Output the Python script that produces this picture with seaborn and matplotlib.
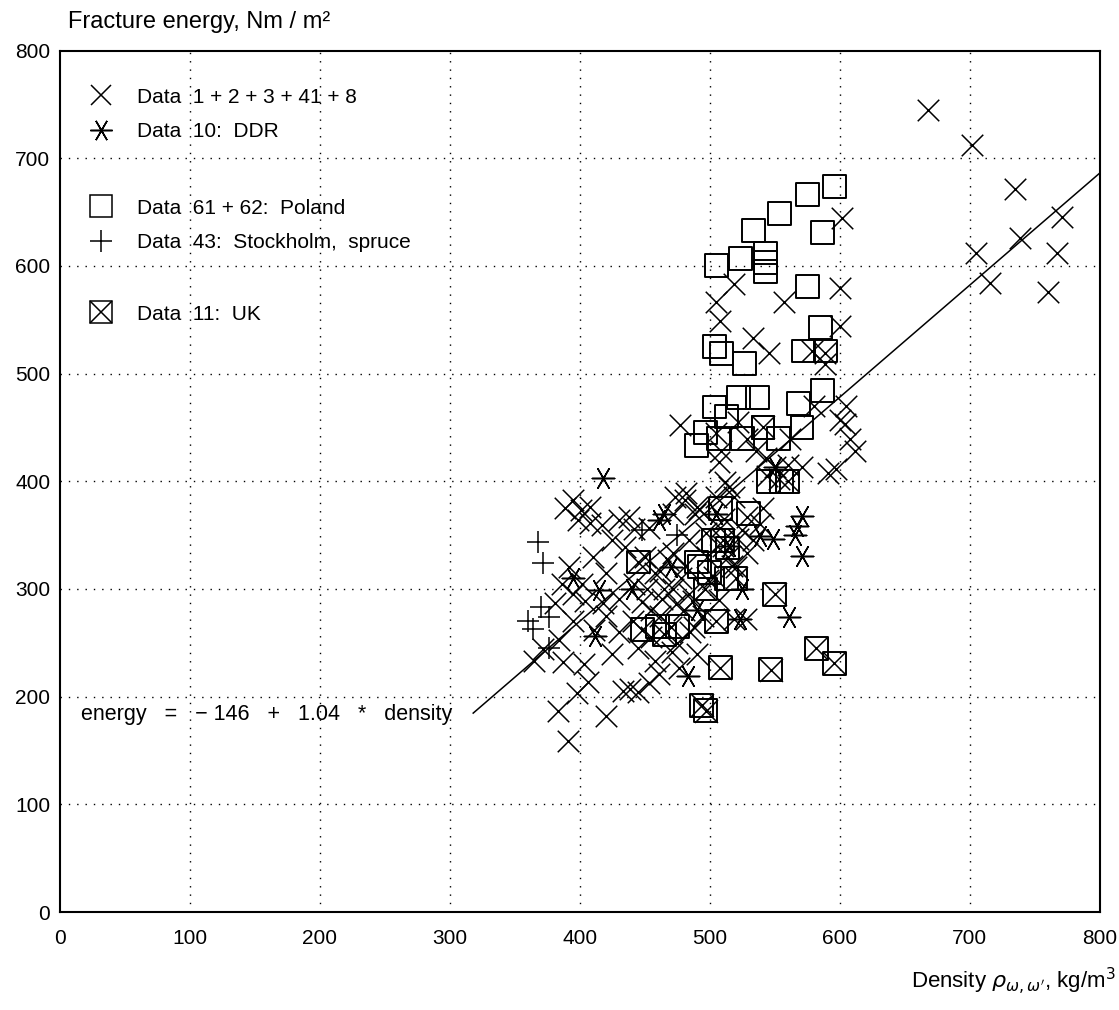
import numpy as np
import pandas as pd
import seaborn as sns
from matplotlib import pyplot as plt
from matplotlib.lines import Line2D
from matplotlib.legend_handler import HandlerTuple

# Data 1+2+3+41+8  (x markers)
d1_x = [668, 702, 735, 771, 739, 767, 705, 716, 760,
        602, 600, 519, 505, 508, 557, 600, 533, 546, 579, 589, 589, 604, 608, 612,
        597, 591, 571, 562, 550, 544, 553, 505, 509, 507, 522, 529, 536, 543, 560,
        600, 605, 477, 580,
        481, 472, 489, 497, 484, 472, 462, 472, 484, 499, 514, 522, 529, 519, 512,
        541, 539, 529, 507, 519, 492, 508, 517, 496, 528, 503, 511,
        395, 389, 401, 408, 399, 408, 417, 430, 442, 438, 453, 473, 482, 490, 425,
        435, 392, 386, 402, 442, 458, 468, 481, 381, 404, 418, 430, 448, 463, 474,
        487, 410, 450, 420, 395,
        365, 384, 372, 387, 406, 398, 411, 403, 383, 420, 391, 433, 439, 445, 453,
        461, 476, 471, 458, 441, 455, 470, 485, 490, 425, 430, 495, 480, 395, 420,
        445, 455, 465, 475, 488, 452, 462, 478, 498, 505, 515, 525, 533, 520, 510]
d1_y = [745, 712, 671, 645, 626, 612, 612, 584, 576,
        644, 579, 583, 566, 549, 566, 544, 533, 519, 521, 519, 509, 453, 439, 428,
        411, 408, 413, 439, 413, 405, 402, 445, 428, 418, 455, 439, 428, 422, 415,
        457, 470, 452, 470,
        383, 370, 370, 352, 345, 333, 317, 300, 295, 308, 330, 346, 367, 385, 399,
        375, 360, 333, 290, 272, 374, 357, 321, 300, 272, 311, 365,
        383, 375, 373, 376, 364, 361, 359, 364, 356, 367, 357, 385, 389, 376, 345,
        339, 320, 305, 305, 305, 315, 327, 321, 287, 289, 287, 291, 288, 291, 286,
        289, 330, 330, 315, 295,
        233, 253, 244, 232, 214, 203, 262, 230, 187, 182, 159, 205, 207, 204, 213,
        221, 227, 241, 233, 270, 255, 265, 260, 240, 240, 260, 275, 280, 270, 275,
        245, 280, 300, 250, 265, 300, 275, 310, 330, 385, 395, 355, 345, 320, 340]

# Data 10: DDR (asterisks)
ddr_x = [418, 412, 483, 561, 523, 571, 567, 566, 571, 549, 539, 550, 465, 461,
         395, 415, 505, 515, 490, 440, 525, 470]
ddr_y = [403, 256, 219, 274, 272, 368, 358, 350, 331, 346, 349, 413, 370, 364,
         310, 299, 370, 340, 280, 300, 300, 320]

# Data 61+62: Poland (squares)
pol_x = [596, 575, 554, 534, 587, 524, 505, 543, 543, 543, 575, 585, 504, 509,
         527, 572, 589, 504, 522, 537, 568, 587, 490, 497, 513, 541, 571, 507,
         525, 553, 555, 490, 503, 492, 508, 514, 497, 475, 500, 460, 513, 530, 545]
pol_y = [674, 666, 649, 633, 631, 607, 600, 612, 603, 595, 581, 543, 525, 519,
         509, 521, 521, 469, 478, 478, 472, 484, 433, 445, 460, 450, 450, 440,
         440, 440, 400, 325, 345, 321, 375, 338, 300, 265, 315, 265, 310, 370, 400]

# Data 43: Stockholm, spruce (plus)
sto_x = [368, 372, 370, 360, 376, 376, 364, 448, 475]
sto_y = [344, 324, 283, 270, 274, 245, 263, 355, 350]

# Data 11: UK (boxed x)
uk_x = [550, 505, 582, 596, 547, 508, 494, 497, 445, 448, 465, 541, 560, 510, 520]
uk_y = [295, 270, 245, 231, 225, 227, 192, 187, 325, 262, 258, 450, 400, 345, 310]

# regression: energy = -146 + 1.04 * density
fit_x = np.array([318, 800])
fit_y = -146 + 1.04 * fit_x

ticks = [0, 100, 200, 300, 400, 500, 600, 700, 800]

plt.rcParams['font.family'] = ['Liberation Sans', 'DejaVu Sans']

fig = plt.figure(figsize=(11.19, 10.10), dpi=100)
ax = fig.add_axes([0.0536, 0.097, 0.929, 0.853])

lw = 1.1
star = (6, 2, 90)
sns.scatterplot(x=d1_x, y=d1_y, marker='x', s=240, color='black', linewidth=lw, ax=ax, legend=False, zorder=3)
sns.scatterplot(x=ddr_x, y=ddr_y, marker=star, s=260, color='black', linewidth=lw, ax=ax, legend=False, zorder=3)
sns.scatterplot(x=pol_x, y=pol_y, marker='s', s=272, color='black', facecolor='none', edgecolor='black',
                linewidth=lw + 0.3, ax=ax, legend=False, zorder=3)
sns.scatterplot(x=sto_x, y=sto_y, marker='+', s=250, color='black', linewidth=lw, ax=ax, legend=False, zorder=3)
sns.scatterplot(x=uk_x, y=uk_y, marker='s', s=272, color='black', facecolor='none', edgecolor='black',
                linewidth=lw + 0.3, ax=ax, legend=False, zorder=3)
sns.scatterplot(x=uk_x, y=uk_y, marker='x', s=272, color='black', linewidth=lw, ax=ax, legend=False, zorder=3)
sns.lineplot(x=fit_x, y=fit_y, color='black', linewidth=1.1, ax=ax, zorder=4)

ax.text(16, 183, 'energy   =   \u2212 146   +   1.04   *   density', fontsize=15.5, va='center', ha='left')

ax.set_xlim(0, 800)
ax.set_ylim(0, 800)
ax.set_xticks(ticks)
ax.set_yticks(ticks)
ax.tick_params(length=0, labelsize=15)
ax.tick_params(axis='y', pad=7)
ax.tick_params(axis='x', pad=12)
for t in ticks[1:-1]:
    ax.axvline(t, color='black', linewidth=1.0, linestyle=(0, (1, 5)), zorder=1)
    ax.axhline(t, color='black', linewidth=1.0, linestyle=(0, (1, 5)), zorder=1)
for sp in ax.spines.values():
    sp.set_linewidth(1.5)
ax.set_xlabel('')
ax.set_ylabel('')

fig.text(0.061, 0.978, 'Fracture energy, Nm / m\u00b2', fontsize=17, va='center', ha='left')
fig.text(0.997, 0.028, r"Density $\rho_{\omega,\omega'}$, kg/m$^3$", fontsize=16, va='center', ha='right')

# legend in three groups
mk = dict(color='black', linestyle='none', markeredgewidth=lw)
h_x = Line2D([], [], marker='x', markersize=15, **mk)
h_ddr = Line2D([], [], marker=star, markersize=16, **mk)
h_sq = Line2D([], [], marker='s', markersize=16, markerfacecolor='none', **mk)
h_pl = Line2D([], [], marker='+', markersize=16, **mk)
h_uk = (Line2D([], [], marker='s', markersize=16, markerfacecolor='none', **mk),
        Line2D([], [], marker='x', markersize=16, **mk))

lkw = dict(frameon=False, fontsize=15, borderpad=0, handlelength=1.5, handletextpad=1.0,
           labelspacing=0.75, loc='upper left', handler_map={tuple: HandlerTuple(ndivide=1)})
leg1 = ax.legend([h_x, h_ddr], ['Data  1 + 2 + 3 + 41 + 8', 'Data  10:  DDR'],
                 bbox_to_anchor=(0.014, 0.969), **lkw)
ax.add_artist(leg1)
leg2 = ax.legend([h_sq, h_pl], ['Data  61 + 62:  Poland', 'Data  43:  Stockholm,  spruce'],
                 bbox_to_anchor=(0.014, 0.840), **lkw)
ax.add_artist(leg2)
ax.legend([h_uk], ['Data  11:  UK'], bbox_to_anchor=(0.014, 0.717), **lkw)

fig.savefig('out.png', dpi=100)
